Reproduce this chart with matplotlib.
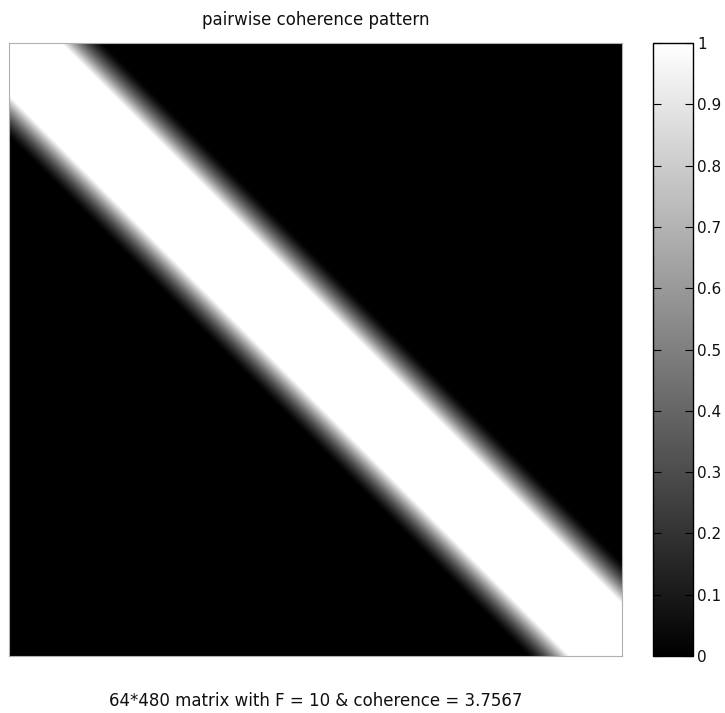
import numpy as np
import matplotlib
matplotlib.use("Agg")
import matplotlib.pyplot as plt

# ---- data ----
n_cols = 480                      # Gram matrix of a 64*480 matrix -> 480x480
plateau_width = 42                # offsets |i-j| < 42 are saturated at 1
falloff_values = [0.958, 0.916, 0.875, 0.835, 0.795, 0.755, 0.716, 0.678,
                  0.640, 0.603, 0.567, 0.531, 0.496, 0.462, 0.428, 0.395,
                  0.363, 0.332, 0.301, 0.271, 0.243, 0.215, 0.188, 0.162,
                  0.138, 0.114, 0.092, 0.071, 0.052, 0.035, 0.020, 0.007, 0.0]
cbar_ticks = [0, 0.1, 0.2, 0.3, 0.4, 0.5, 0.6, 0.7, 0.8, 0.9, 1]
cbar_ticklabels = ["0", "0.1", "0.2", "0.3", "0.4", "0.5", "0.6", "0.7", "0.8", "0.9", "1"]
title_text = "pairwise coherence pattern"
xlabel_text = "64*480 matrix with F = 10 & coherence = 3.7567"

# build matrix from the band profile
profile = np.zeros(n_cols)
profile[:plateau_width] = 1.0
profile[plateau_width:plateau_width + len(falloff_values)] = falloff_values
idx = np.arange(n_cols)
dist = np.abs(idx[:, None] - idx[None, :])
M = profile[dist]

plt.rcParams['font.family'] = ['DejaVu Sans']

W, H = 725, 713
fig = plt.figure(figsize=(W / 100, H / 100), dpi=100)
fig.patch.set_facecolor("white")

ax = fig.add_axes([9 / W, (H - 656) / H, 613 / W, 613 / H])
im = ax.imshow(M, cmap="gray", vmin=0, vmax=1, aspect="auto",
               interpolation="bilinear")
ax.set_xticks([])
ax.set_yticks([])
for s in ax.spines.values():
    s.set_color("#b0b0b0")
    s.set_linewidth(0.8)
ax.set_title(title_text, fontsize=12, pad=13, color="#101010")
ax.set_xlabel(xlabel_text, fontsize=12, labelpad=26, color="#101010")

cax = fig.add_axes([653 / W, (H - 656) / H, 40 / W, 613 / H])
cb = fig.colorbar(im, cax=cax, ticks=cbar_ticks)
cb.set_ticklabels(cbar_ticklabels)
cb.outline.set_linewidth(1.0)
cb.outline.set_edgecolor("black")
cax.tick_params(axis="y", direction="in", length=6, width=0.8, left=True,
                right=True, labelsize=11, pad=3, labelcolor="#101010")

fig.savefig("out.png", dpi=100)
